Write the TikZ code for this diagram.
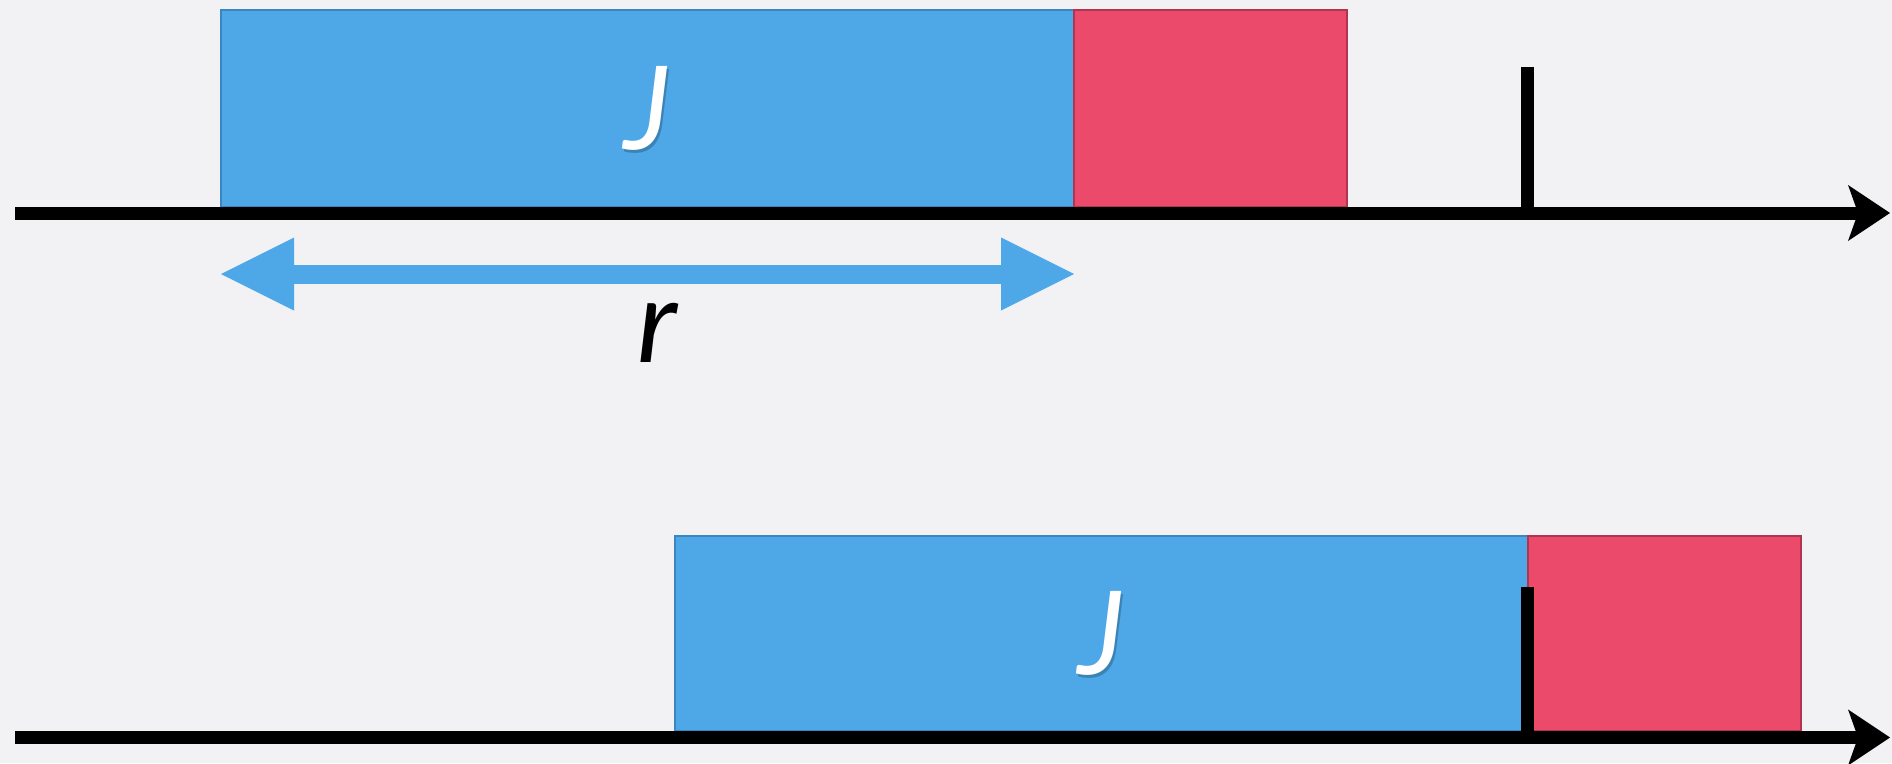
\documentclass[tikz,border=0pt]{standalone}
\usepackage{fontspec}
\setmainfont{Lato}
\usetikzlibrary{arrows.meta}
\definecolor{bg}{HTML}{F2F2F5}
\definecolor{jblue}{HTML}{4EA8E8}
\definecolor{jblueedge}{HTML}{3A86C0}
\definecolor{jred}{HTML}{EC4A6B}
\definecolor{jrededge}{HTML}{B03550}
\newcommand{\bigital}{\fontsize{116}{120}\selectfont\itshape}
\tikzset{
  axisline/.style={line width=13pt,
    -{Stealth[length=42pt,width=56pt,inset=10pt,line width=0pt]}},
  tickline/.style={line width=13pt},
  bluebox/.style={draw=jblueedge, fill=jblue, line width=1.2pt,
    inner sep=0pt, outer sep=0pt, anchor=south west},
  redbox/.style={draw=jrededge, fill=jred, line width=1.2pt,
    inner sep=0pt, outer sep=0pt, anchor=south west},
  rarrow/.style={draw=jblue, line width=19pt,
    {Triangle[length=73pt,width=73pt,line width=0pt]}-{Triangle[length=73pt,width=73pt,line width=0pt]}},
  jlabel/.style={text=white, font=\bigital, inner sep=0pt},
  jshadow/.style={text=black, opacity=0.22, font=\bigital, inner sep=0pt},
  rlabel/.style={text=black, font=\bigital, inner sep=0pt}
}
\begin{document}
\begin{tikzpicture}[x=1pt, y=-1pt]
  % canvas
  \fill[bg] (0,0) rectangle (1892,763);
  \useasboundingbox (0,0) rectangle (1892,763);

  % ---- upper timeline ----
  \node[bluebox, minimum width=853pt, minimum height=197pt] (j1) at (221,207) {};
  \node[redbox, minimum width=273pt, minimum height=197pt] (red1) at (j1.south east) {};
  \node[jshadow] at ([xshift=2pt,yshift=-3pt]j1.center) {J};
  \node[jlabel] (jt1) at (j1.center) {J};

  \coordinate (ax1s) at (15,213);
  \coordinate (ax1e) at (1890,213);
  \draw[axisline] (ax1s) -- (ax1e);
  \coordinate (tk1b) at (1527,213);
  \coordinate (tk1t) at (1527,67);
  \draw[tickline] (tk1b) -- (tk1t);

  % span r below the upper job
  \coordinate (rl) at ([yshift=-67pt]j1.south west);
  \coordinate (rr) at ([yshift=-67pt]j1.south east);
  \draw[rarrow] (rl) -- (rr);
  \node[rlabel] (rtext) at (657,333) {r};

  % ---- lower timeline ----
  \node[bluebox, minimum width=853pt, minimum height=195pt] (j2) at (675,731) {};
  \node[redbox, minimum width=273pt, minimum height=195pt] (red2) at (j2.south east) {};
  \node[jshadow] at ([xshift=2pt,yshift=-3pt]j2.center) {J};
  \node[jlabel] (jt2) at (j2.center) {J};

  \coordinate (ax2s) at (15,737.5);
  \coordinate (ax2e) at (1890,737.5);
  \draw[axisline] (ax2s) -- (ax2e);
  \coordinate (tk2b) at (1527,737.5);
  \coordinate (tk2t) at (1527,587);
  \draw[tickline] (tk2b) -- (tk2t);
\end{tikzpicture}
\end{document}
